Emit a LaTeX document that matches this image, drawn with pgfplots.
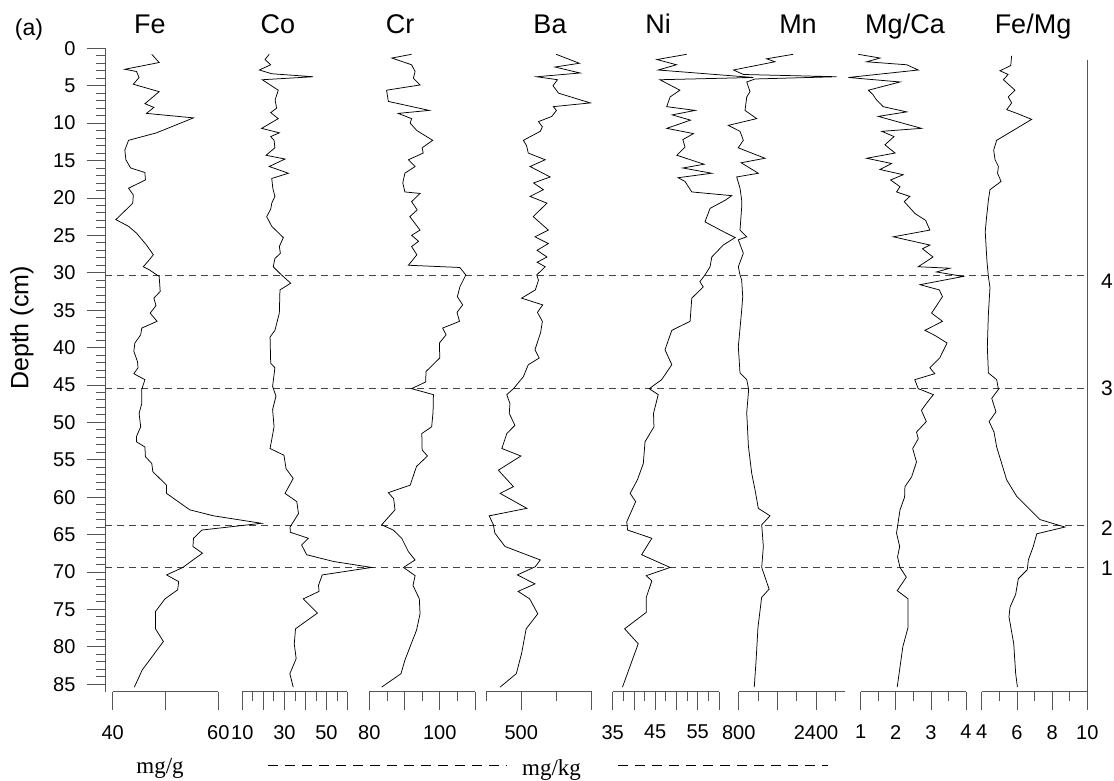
\documentclass[border=0pt]{standalone}
\usepackage{pgfplots}
\pgfplotsset{compat=1.18}
\usepackage{fontspec}
\setmainfont{Liberation Sans}
\newfontfamily\seriffont{Liberation Serif}
\definecolor{axgray}{HTML}{555555}
\definecolor{dashgray}{HTML}{444444}
\pgfplotsset{
  panel/.style={scale only axis, height=643.3pt, ymin=0, ymax=86, y dir=reverse,
    axis y line=none, axis x line*=bottom, clip=false, anchor=south west,
    tick align=outside, major tick length=18pt, minor tick length=9pt,
    axis line style={axgray, line width=0.8pt},
    tick style={axgray, line width=0.8pt},
    xticklabel style={font=\fontsize{20}{20}\selectfont, text=black, yshift=-12pt},
    /pgf/number format/assume math mode=true},
  data/.style={black, line width=0.75pt, mark=none},
}
\begin{document}
\begin{tikzpicture}[x=1pt,y=1pt]
\useasboundingbox (0,0) rectangle (1114,-781);
% background depth axis
\begin{axis}[at={(105pt,-691.6pt)}, anchor=south west, scale only axis,
  width=982.3pt, height=643.3pt, xmin=0, xmax=1, ymin=0, ymax=86, y dir=reverse,
  axis x line=none, axis y line*=left, clip=false,
  tick align=outside, major tick length=18pt, minor tick length=9pt,
  axis line style={axgray, line width=0.8pt}, tick style={axgray, line width=0.8pt},
  ytick={0,5,...,85}, minor y tick num=4,
  yticklabels={0,5,10,15,20,25,30,35,40,45,50,55,60,65,70,75,80,85},
  yticklabel style={font=\fontsize{20}{20}\selectfont, text=black, xshift=-8pt},
  /pgf/number format/assume math mode=true]
\addplot[dashgray, line width=0.8pt, dash pattern=on 7pt off 5pt] coordinates {(0,30.3) (1,30.3)};
\addplot[dashgray, line width=0.8pt, dash pattern=on 7pt off 5pt] coordinates {(0,45.45) (1,45.45)};
\addplot[dashgray, line width=0.8pt, dash pattern=on 7pt off 5pt] coordinates {(0,63.8) (1,63.8)};
\addplot[dashgray, line width=0.8pt, dash pattern=on 7pt off 5pt] coordinates {(0,69.4) (1,69.4)};
\addplot[axgray, line width=0.8pt] coordinates {(1,1.6) (1,86)};
\end{axis}
% Fe
\begin{axis}[panel, at={(112.7pt,-691.6pt)}, width=105.6pt, xmin=40, xmax=60,
  xtick={40,50,60}, xticklabels={40,,60}]
\addplot[data] coordinates {(47.4,0.8) (48.8,1.9) (42.3,2.8) (44.5,3.1) (45.0,3.9) (43.9,4.8) (48.8,5.8) (46.1,7.4) (47.8,7.9) (46.4,8.7) (55.3,9.3) (48.3,11.3) (43.0,12.3) (42.3,13.6) (42.5,14.9) (43.4,16.0) (46.1,16.6) (46.2,17.6) (43.0,18.7) (43.9,19.6) (43.8,20.7) (42.5,21.6) (40.6,22.9) (43.0,23.8) (44.5,24.7) (46.4,26.3) (47.7,27.6) (46.9,28.3) (45.8,29.2) (46.9,29.6) (48.8,30.5) (49.0,32.5) (47.8,33.4) (48.2,34.4) (47.1,35.4) (48.4,36.5) (45.5,37.4) (45.3,38.3) (44.2,39.4) (44.0,40.5) (44.7,41.9) (44.8,42.7) (44.0,43.5) (46.1,44.3) (45.5,45.6) (45.5,47.5) (45.0,48.8) (45.3,50.6) (44.5,51.9) (44.5,52.6) (46.1,53.3) (46.2,54.6) (47.4,55.5) (47.6,56.6) (50.2,58.4) (50.2,59.5) (54.6,61.7) (59.1,62.5) (68.2,63.5) (56.9,64.4) (55.3,65.5) (55.2,66.6) (57.0,67.5) (55.2,68.4) (53.3,69.4) (50.2,70.4) (52.5,71.3) (52.3,72.4) (49.9,73.6) (48.1,75.3) (48.1,77.6) (49.6,79.3) (45.6,83.1) (44.1,85.4)};
\end{axis}
% Co
\begin{axis}[panel, at={(242.3pt,-691.6pt)}, width=105.2pt, xmin=10, xmax=60,
  xtick={10,20,30,40,50,60}, xticklabels={10,,30,,50,}, minor xtick={15,25,35,45,55}]
\addplot[data] coordinates {(22.8,0.8) (20.8,1.5) (23.5,2.2) (18.1,2.9) (24.0,3.4) (43.7,3.8) (19.5,4.2) (27.1,5.6) (25.6,6.9) (26.3,8.0) (23.5,8.6) (27.1,9.4) (19.2,10.7) (27.6,11.3) (23.5,11.8) (25.1,12.3) (25.5,13.3) (21.3,14.3) (30.3,14.8) (22.8,15.8) (31.9,16.7) (24.0,17.4) (24.5,18.7) (25.5,19.8) (24.0,20.7) (23.5,21.5) (21.6,22.5) (24.0,23.8) (29.5,25.3) (27.6,26.5) (28.1,27.4) (25.5,28.1) (24.7,29.2) (27.9,30.1) (33.0,31.4) (27.9,32.3) (27.6,35.4) (25.5,37.7) (23.2,38.6) (23.5,42.1) (25.5,42.7) (24.4,45.2) (26.0,46.5) (24.4,48.3) (25.1,50.6) (23.2,53.5) (29.8,54.4) (30.8,56.2) (34.2,57.5) (30.3,59.5) (35.9,60.6) (36.7,62.2) (32.7,64.0) (32.8,64.7) (41.4,65.5) (38.2,66.4) (40.6,67.7) (53.3,68.6) (71.5,69.4) (48.0,70.4) (46.2,71.8) (46.5,72.6) (39.0,73.6) (45.7,75.5) (35.3,77.6) (34.7,79.6) (35.6,81.6) (32.6,83.6) (34.2,85.4)};
\end{axis}
% Cr
\begin{axis}[panel, at={(369.3pt,-691.6pt)}, width=105.7pt, xmin=80, xmax=110,
  xtick={80,90,100,110}, xticklabels={80,,100,}, minor xtick={85,95,105}]
\addplot[data] coordinates {(92.0,0.8) (86.4,1.3) (92.0,2.2) (93.0,3.1) (92.5,4.0) (94.4,4.9) (84.9,5.6) (85.4,7.1) (97.0,8.3) (88.2,8.7) (92.0,9.4) (91.6,10.0) (93.5,11.0) (98.0,12.3) (95.0,13.3) (95.3,14.0) (91.1,14.9) (93.0,15.8) (90.1,16.7) (89.5,18.0) (90.1,19.2) (94.4,19.4) (92.0,20.5) (93.6,21.6) (91.5,22.5) (94.4,24.3) (92.0,25.0) (94.0,25.8) (92.0,26.5) (93.5,27.6) (91.1,29.0) (105.7,29.3) (107.4,30.3) (105.7,31.9) (105.0,33.2) (106.5,34.3) (104.9,35.3) (105.6,36.5) (100.8,37.4) (101.8,38.3) (99.9,39.4) (100.0,41.4) (96.1,43.2) (96.0,44.6) (92.0,45.5) (98.2,46.3) (98.1,48.6) (97.7,50.6) (94.9,51.5) (95.0,53.7) (96.5,54.5) (93.4,55.9) (91.6,58.4) (85.4,59.4) (86.9,60.2) (87.3,61.7) (83.5,63.7) (86.8,64.4) (89.2,65.5) (91.1,67.3) (93.0,68.4) (89.7,69.4) (93.0,70.5) (92.4,71.8) (94.2,73.6) (94.4,75.6) (93.4,77.8) (91.9,79.6) (90.1,81.8) (89.0,83.6) (83.5,85.4)};
\end{axis}
% Ba
\begin{axis}[panel, at={(486pt,-691.6pt)}, width=105.7pt, xmin=400, xmax=700,
  xtick={500,700}, xticklabels={500,}, minor xtick={400,600}]
\addplot[data] coordinates {(599,0.8) (665,2.0) (596,2.5) (667,3.3) (544,3.8) (603,4.2) (590,5.0) (606,6.0) (696,7.3) (591,7.8) (600,8.3) (587,9.1) (549,9.8) (560,10.5) (554,11.1) (506,12.3) (515,13.0) (520,14.0) (568,14.9) (525,15.8) (582,17.2) (535,18.0) (563,18.9) (525,19.8) (573,20.7) (534,22.5) (577,24.3) (539,25.2) (577,26.1) (545,27.0) (573,27.9) (545,28.6) (568,29.2) (544,30.3) (549,31.0) (540,32.3) (501,33.4) (561,34.3) (546,35.3) (560,36.5) (555,38.0) (539,40.3) (551,41.4) (520,42.3) (506,43.9) (478,45.5) (459,46.3) (468,47.5) (466,48.8) (482,50.4) (459,51.5) (445,53.5) (499,54.5) (435,56.4) (478,58.6) (440,59.5) (516,61.5) (409,62.5) (421,63.7) (425,64.8) (454,66.6) (554,68.4) (540,69.3) (489,70.4) (539,71.6) (491,72.6) (524,73.6) (547,75.6) (514,77.6) (501,80.9) (486,83.6) (440,85.4)};
\end{axis}
% Ni
\begin{axis}[panel, at={(612.7pt,-691.6pt)}, width=106.3pt, xmin=35, xmax=60,
  xtick={35,40,45,50,55,60}, xticklabels={35,,45,,55,}, minor xtick={37.5,42.5,47.5,52.5,57.5}]
\addplot[data] coordinates {(52.4,0.8) (45.4,1.5) (50.0,2.2) (45.7,2.9) (68.1,3.9) (46.1,4.2) (50.8,5.6) (48.5,6.5) (47.7,7.8) (54.4,8.3) (49.0,8.9) (53.3,9.6) (47.7,10.7) (54.0,11.4) (51.5,12.2) (52.0,13.2) (50.1,14.3) (56.5,15.5) (51.5,16.0) (58.3,16.7) (50.4,17.3) (52.0,17.8) (53.6,19.2) (63.0,19.7) (61.5,20.3) (57.9,21.4) (56.7,23.2) (61.0,24.5) (63.8,25.3) (61.0,26.3) (58.3,27.9) (57.9,29.2) (56.7,30.3) (55.5,31.2) (56.3,31.9) (53.6,33.4) (53.2,36.5) (48.9,37.7) (47.3,40.3) (48.9,42.3) (46.5,44.3) (43.6,45.5) (45.7,46.3) (44.6,48.8) (44.7,50.6) (42.6,52.6) (42.2,55.5) (40.8,57.7) (39.1,59.5) (40.4,60.6) (38.3,63.3) (38.5,64.4) (44.2,65.5) (41.8,67.7) (48.5,69.4) (42.9,70.5) (44.2,71.2) (42.9,73.4) (42.9,75.4) (37.8,77.6) (41.0,79.6) (37.3,85.4)};
\end{axis}
% Mn
\begin{axis}[panel, at={(738.7pt,-691.6pt)}, width=106.3pt, xmin=800, xmax=3000,
  xtick={800,1600,2400}, xticklabels={800,,2400}, minor xtick={1200,2000,2800}]
\addplot[data] coordinates {(1928,0.8) (1379,1.4) (1550,1.8) (690,2.9) (900,3.5) (2828,3.8) (1137,4.1) (966,4.5) (1034,5.8) (966,6.5) (931,8.3) (1172,9.4) (585,10.3) (827,11.1) (896,12.3) (790,13.3) (1344,14.7) (850,15.3) (1206,16.7) (758,17.2) (827,18.7) (862,20.3) (862,21.2) (827,24.3) (966,25.2) (792,25.6) (896,27.4) (792,29.2) (827,30.3) (862,31.0) (883,33.2) (862,35.0) (792,39.9) (827,43.4) (966,44.3) (1006,45.6) (966,48.7) (1001,53.2) (1069,56.8) (1137,59.0) (1206,61.5) (1448,62.5) (1276,63.7) (1310,66.6) (1276,69.4) (1429,72.3) (1275,73.4) (1199,77.4) (1160,81.8) (1122,85.4)};
\end{axis}
% Mg/Ca
\begin{axis}[panel, at={(860.7pt,-691.6pt)}, width=105.3pt, xmin=1, xmax=4,
  xtick={1,2,3,4}, xticklabels={1,2,3,4}, minor xtick={1.5,2.5,3.5}]
\addplot[data] coordinates {(0.93,0.8) (1.55,1.3) (1.17,1.8) (2.31,2.2) (2.64,2.9) (0.65,3.9) (2.12,4.5) (1.22,5.6) (1.35,6.2) (1.45,6.9) (1.64,7.8) (2.31,8.5) (1.50,9.1) (2.73,10.7) (1.60,11.1) (1.95,11.8) (1.69,12.9) (1.98,14.0) (1.17,14.7) (1.88,15.4) (1.55,16.2) (2.21,16.9) (1.85,17.6) (2.12,18.5) (2.02,19.2) (2.40,19.8) (2.24,20.5) (2.55,22.1) (2.85,23.0) (2.97,24.3) (1.93,25.2) (2.97,26.3) (2.76,26.8) (3.06,27.9) (2.64,29.2) (3.54,29.4) (3.16,29.9) (3.92,30.5) (2.69,31.6) (3.24,32.3) (3.33,33.2) (3.02,35.4) (3.33,36.5) (2.83,37.7) (3.12,38.4) (3.46,39.4) (3.25,41.4) (2.97,42.7) (3.11,43.5) (2.54,44.3) (2.64,45.5) (3.07,46.3) (2.90,47.3) (2.73,48.4) (2.87,49.9) (2.59,51.3) (2.64,52.2) (2.48,53.5) (2.59,55.3) (2.45,57.3) (2.26,58.6) (2.25,60.0) (2.12,61.7) (2.02,64.8) (2.11,66.6) (2.05,68.0) (2.12,69.4) (2.30,70.7) (2.04,72.5) (2.35,73.6) (2.35,77.4) (2.20,80.0) (2.04,85.4)};
\end{axis}
% Fe/Mg
\begin{axis}[panel, at={(981.7pt,-691.6pt)}, width=105.6pt, xmin=4, xmax=10,
  xtick={4,6,8,10}, xticklabels={4,6,8,10}, minor xtick={5,7,9}]
\addplot[data] coordinates {(5.70,1.0) (5.65,2.3) (5.04,3.0) (5.5,3.5) (5.23,4.2) (5.89,5.6) (5.51,6.5) (5.7,7.3) (5.42,8.2) (6.0,8.7) (6.84,9.5) (5.70,11.1) (4.85,12.3) (4.68,13.6) (4.76,14.9) (4.95,15.8) (4.9,16.7) (5.1,17.8) (4.47,18.9) (4.38,20.3) (4.28,22.5) (4.2,24.5) (4.26,26.9) (4.3,28.5) (4.38,30.5) (4.47,32.0) (4.38,35.5) (4.32,39.9) (4.38,43.4) (4.85,44.3) (4.95,45.6) (4.57,46.8) (4.81,48.6) (4.42,49.9) (4.7,51.3) (4.85,53.3) (5.42,57.7) (5.99,59.9) (7.31,63.0) (8.73,64.0) (7.13,64.9) (6.93,66.6) (6.65,68.4) (6.59,69.7) (6.08,70.9) (5.93,73.0) (5.61,74.7) (5.55,76.0) (5.82,79.6) (5.93,83.6) (6.03,85.4)};
\end{axis}
% titles and labels
\begin{scope}[every node/.style={font=\fontsize{27}{27}\selectfont, anchor=base}]
\node at (150,-33.3) {Fe};
\node at (278,-33.3) {Co};
\node at (400,-33.3) {Cr};
\node at (550,-33.3) {Ba};
\node at (658,-33.3) {Ni};
\node at (798,-33.3) {Mn};
\node at (905,-33.3) {Mg/Ca};
\node at (1033,-33.3) {Fe/Mg};
\end{scope}
\node[font=\fontsize{23}{23}\selectfont] at (29,-30) {(a)};
\node[font=\fontsize{25}{25}\selectfont, rotate=90] at (22,-328) {Depth (cm)};
\begin{scope}[every node/.style={font=\fontsize{21}{21}\selectfont}]
\node at (1107,-281) {4};
\node at (1107,-388.3) {3};
\node at (1107,-528) {2};
\node at (1107,-568.5) {1};
\end{scope}
\node[font=\seriffont\fontsize{23}{23}\selectfont, anchor=base] at (160,-773) {mg/g};
\node[font=\seriffont\fontsize{23}{23}\selectfont, anchor=base] at (551.5,-775) {mg/kg};
\draw[black, line width=0.7pt, dash pattern=on 10pt off 7pt] (268,-765) -- (507,-765);
\draw[black, line width=0.7pt, dash pattern=on 10pt off 7pt] (618,-765) -- (827.5,-765);
\end{tikzpicture}
\end{document}
